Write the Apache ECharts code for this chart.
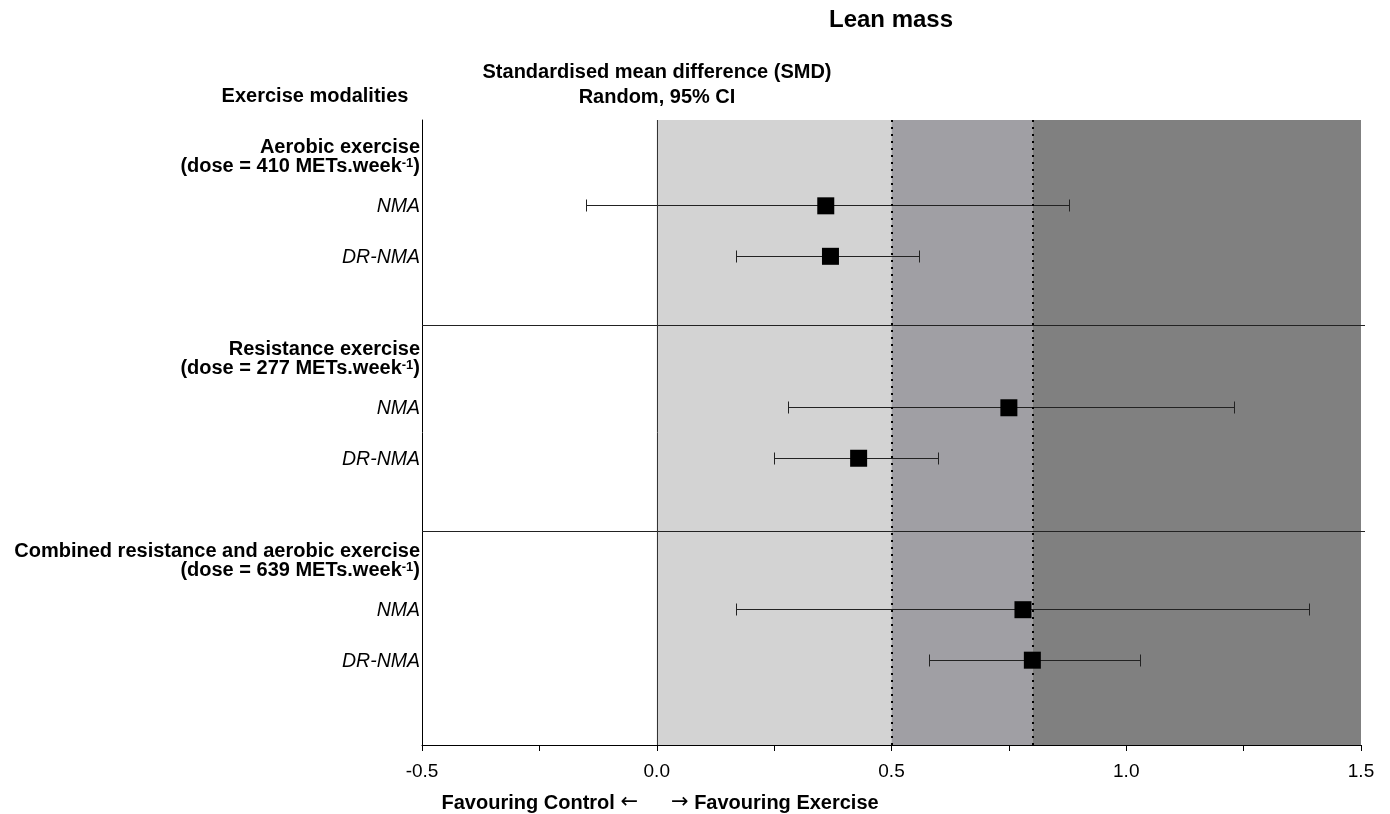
<!DOCTYPE html>
<html>
<head>
<meta charset="utf-8">
<title>Lean mass</title>
<script src="https://cdn.jsdelivr.net/npm/echarts@6/dist/echarts.min.js"></script>
<style>
  html, body { margin: 0; padding: 0; background: #ffffff; }
  #chart { width: 1390px; height: 814px; }
</style>
</head>
<body>
<div id="chart"></div>
<script>
// Exercise modalities and their doses (METs.week^-1)
const groups = ['Aerobic exercise', 'Resistance exercise', 'Combined resistance and aerobic exercise'];
const doses = [410, 277, 639];
// Analysis methods reported within each modality
const methods = ['NMA', 'DR-NMA'];
// SMD estimates with 95% CI, ordered group by group, method by method
const smdEstimate = [0.36, 0.37, 0.75, 0.43, 0.78, 0.80];
const ciLower = [-0.15, 0.17, 0.28, 0.25, 0.17, 0.58];
const ciUpper = [0.88, 0.56, 1.23, 0.60, 1.39, 1.03];
// Effect-size thresholds (small / medium / large)
const thresholds = [0, 0.5, 0.8, 1.5];
const xTicks = [-0.5, 0.0, 0.5, 1.0, 1.5];

const FONT = '"Liberation Sans", Arial, Helvetica, sans-serif';
const ARROW_FONT = '"DejaVu Sans", sans-serif';

// vertical layout in row units: each modality block spans 4 rows
const BLOCK = 4.0;
const TITLE_ROW = 0.74;
const FIRST_ROW = 1.70;
const SEP_FIRST = 4.08;
const SEP_STEP = 4.08;
const Y_MAX = 12.38;

const points = [];
const rowLabels = [];
const titleLabels = [];
groups.forEach((g, gi) => {
  titleLabels.push({
    value: [-0.5, gi * BLOCK + TITLE_ROW],
    text: '{b|' + g + '}\n{b|(dose = ' + doses[gi] + ' METs.week}{sup|-1}{b|)}'
  });
  methods.forEach((m, mi) => {
    const k = gi * methods.length + mi;
    const y = gi * BLOCK + FIRST_ROW + mi;
    points.push([smdEstimate[k], y, ciLower[k], ciUpper[k]]);
    rowLabels.push({ value: [-0.5, y], text: m });
  });
});
const separators = [0, 1].map(i => [SEP_FIRST + i * SEP_STEP]);

const chart = echarts.init(document.getElementById('chart'), null, { renderer: 'canvas' });

const bandColors = ['#d3d3d3', '#a09fa4', '#808080'];
const headerFont = 'bold 20px ' + FONT;
// crisp 1px lines on the pixel grid
const snap = v => Math.floor(v) + 0.5;

const footRich = {
  b: { fontFamily: FONT, fontSize: 20, fontWeight: 'bold', fill: '#000' },
  a: { fontFamily: ARROW_FONT, fontSize: 21, fontWeight: 'normal', fill: '#000' }
};

chart.setOption({
  animation: false,
  backgroundColor: '#ffffff',
  textStyle: { fontFamily: FONT },
  grid: { left: 422, right: 29, top: 120, bottom: 69, containLabel: false },
  xAxis: {
    type: 'value',
    min: xTicks[0],
    max: xTicks[xTicks.length - 1],
    interval: 0.25,
    splitLine: { show: false },
    axisLine: { show: true, onZero: false, lineStyle: { color: '#000', width: 1 } },
    axisTick: { show: true, length: 6, lineStyle: { color: '#000' } },
    axisLabel: {
      margin: 17,
      fontSize: 19,
      color: '#000',
      fontFamily: FONT,
      formatter: v => (xTicks.some(t => Math.abs(t - v) < 1e-9) ? v.toFixed(1) : '')
    }
  },
  yAxis: {
    type: 'value',
    inverse: true,
    min: 0,
    max: Y_MAX,
    splitLine: { show: false },
    axisLine: { show: true, onZero: false, lineStyle: { color: '#000', width: 1 } },
    axisTick: { show: false },
    axisLabel: { show: false }
  },
  graphic: [
    { type: 'text', x: 891, y: 20, style: { text: 'Lean mass', font: 'bold 24px ' + FONT, fill: '#000', textAlign: 'center', textVerticalAlign: 'middle' } },
    { type: 'text', x: 657, y: 72, style: { text: 'Standardised mean difference (SMD)', font: headerFont, fill: '#000', textAlign: 'center', textVerticalAlign: 'middle' } },
    { type: 'text', x: 657, y: 97, style: { text: 'Random, 95% CI', font: headerFont, fill: '#000', textAlign: 'center', textVerticalAlign: 'middle' } },
    { type: 'text', x: 315, y: 96, style: { text: 'Exercise modalities', font: headerFont, fill: '#000', textAlign: 'center', textVerticalAlign: 'middle' } },
    { type: 'text', x: 638, y: 803, style: { text: '{b|Favouring Control }{a|\u2190}', rich: footRich, textAlign: 'right', textVerticalAlign: 'middle' } },
    { type: 'text', x: 671, y: 803, style: { text: '{a|\u2192}{b| Favouring Exercise}', rich: footRich, textAlign: 'left', textVerticalAlign: 'middle' } }
  ],
  series: [
    {
      // shaded effect-size bands, zero line and thresholds
      type: 'line',
      data: [],
      silent: true,
      markArea: {
        silent: true,
        data: bandColors.map((c, i) => [
          { xAxis: thresholds[i], itemStyle: { color: c, opacity: 1 } },
          { xAxis: thresholds[i + 1] }
        ])
      },
      markLine: {
        silent: true,
        symbol: 'none',
        label: { show: false },
        data: [
          { xAxis: thresholds[0], lineStyle: { color: '#333', width: 1, type: 'solid' } },
          { xAxis: thresholds[1], lineStyle: { color: '#000', width: 2, type: [2, 5] } },
          { xAxis: thresholds[2], lineStyle: { color: '#000', width: 2, type: [2, 5] } }
        ]
      }
    },
    {
      // horizontal separators between modality blocks
      type: 'custom',
      z: 3,
      silent: true,
      clip: false,
      data: separators,
      renderItem: (params, api) => {
        const a = api.coord([xTicks[0], api.value(0)]);
        const b = api.coord([xTicks[xTicks.length - 1], api.value(0)]);
        const y = snap(a[1]);
        return { type: 'line', shape: { x1: a[0], y1: y, x2: b[0] + 4, y2: y }, style: { stroke: '#222', lineWidth: 1 } };
      }
    },
    {
      // 95% CI whiskers
      type: 'custom',
      z: 3,
      data: points,
      renderItem: (params, api) => {
        const yv = api.value(1);
        const lo = api.coord([api.value(2), yv]);
        const hi = api.coord([api.value(3), yv]);
        const y = snap(lo[1]);
        const x1 = snap(lo[0]);
        const x2 = snap(hi[0]);
        const cap = 6;
        const style = { stroke: '#222', lineWidth: 1 };
        return {
          type: 'group',
          children: [
            { type: 'line', shape: { x1: x1, y1: y, x2: x2, y2: y }, style },
            { type: 'line', shape: { x1: x1, y1: y - cap, x2: x1, y2: y + cap }, style },
            { type: 'line', shape: { x1: x2, y1: y - cap, x2: x2, y2: y + cap }, style }
          ]
        };
      }
    },
    {
      // point estimates
      type: 'scatter',
      z: 4,
      symbol: 'rect',
      symbolSize: 17,
      itemStyle: { color: '#000', opacity: 1 },
      data: points.map(p => [p[0], p[1]])
    },
    {
      // method labels on the left of the plot
      type: 'scatter',
      symbolSize: 0,
      silent: true,
      itemStyle: { opacity: 1 },
      data: rowLabels.map(r => ({ value: r.value, text: r.text })),
      label: {
        show: true,
        position: 'left',
        distance: 2,
        offset: [0, 1],
        formatter: p => p.data.text,
        fontFamily: FONT,
        fontSize: 19.5,
        fontStyle: 'italic',
        color: '#000'
      }
    },
    {
      // modality titles with dose
      type: 'scatter',
      symbolSize: 0,
      silent: true,
      itemStyle: { opacity: 1 },
      data: titleLabels.map(r => ({ value: r.value, text: r.text })),
      label: {
        show: true,
        position: 'left',
        distance: 2,
        align: 'right',
        formatter: p => p.data.text,
        rich: {
          b: { fontFamily: FONT, fontSize: 20, fontWeight: 'bold', color: '#000', lineHeight: 19 },
          sup: { fontFamily: FONT, fontSize: 13, fontWeight: 'bold', color: '#000', lineHeight: 19, verticalAlign: 'top' }
        }
      }
    }
  ]
});
</script>
</body>
</html>
